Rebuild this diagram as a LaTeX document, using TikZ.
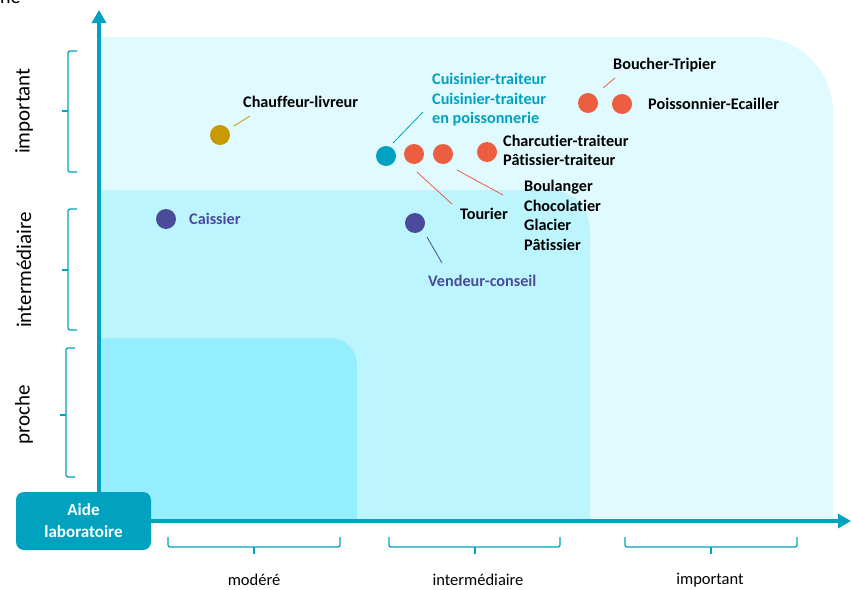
\documentclass[tikz,border=0pt]{standalone}
\usepackage{fontspec}
\setmainfont{Carlito}[Ligatures=NoCommon]
\usetikzlibrary{arrows.meta}
\definecolor{teal1}{HTML}{00A2BF}
\definecolor{zone1}{HTML}{E1FAFF}
\definecolor{zone2}{HTML}{BDF5FE}
\definecolor{zone3}{HTML}{94EEFF}
\definecolor{orangeD}{HTML}{EB5F40}
\definecolor{purpleD}{HTML}{4B4B9B}
\definecolor{goldD}{HTML}{C69A00}
\tikzset{
  x=1pt, y=1pt,
  dot/.style={circle, inner sep=0pt, minimum size=20pt},
  lbl/.style={anchor=west, inner sep=0pt, align=left, font=\fontsize{16.2}{19.5}\selectfont\bfseries},
  axislbl/.style={font=\fontsize{21}{24}\selectfont, inner sep=0pt},
  botlbl/.style={font=\fontsize{16.5}{18}\selectfont, inner sep=0pt},
  brace/.style={draw=teal1, line width=1.3pt, rounded corners=2pt},
  axis/.style={draw=teal1, line width=3.5pt, -{Triangle[length=13pt,width=14pt]}},
  leader/.style={line width=0.8pt}
}
\begin{document}
\begin{tikzpicture}
\useasboundingbox (0,0) rectangle (851,-589);
% partial heading
\node[anchor=base west, inner sep=0pt, font=\fontsize{20}{22}\selectfont] (head) at (0,-4) {ne};
% zones
\fill[zone1] (100,-521) -- (100,-37) -- (758,-37) arc[start angle=90,end angle=0,radius=75] -- (833,-521) -- cycle;
\fill[zone2] (100,-521) -- (100,-190) -- (550,-190) arc[start angle=90,end angle=0,radius=40] -- (590,-521) -- cycle;
\fill[zone3] (100,-521) -- (100,-338) -- (330,-338) arc[start angle=90,end angle=0,radius=27] -- (357,-365) -- (357,-521) -- cycle;
% axes
\coordinate (o) at (99,-521);
\coordinate (ytop) at (99,-10);
\coordinate (xend) at (851,-521);
\draw[axis] (99,-522) -- (ytop);
\draw[axis] (97,-521) -- (xend);
% left braces
\draw[brace] (77,-51) -- (68,-51) -- (68,-172) -- (77,-172);
\draw[brace] (68,-111) -- (62,-111);
\draw[brace] (77,-209) -- (68,-209) -- (68,-330) -- (77,-330);
\draw[brace] (68,-270) -- (62,-270);
\draw[brace] (75,-348) -- (66,-348) -- (66,-477) -- (75,-477);
\draw[brace] (66,-415) -- (60,-415);
\node[axislbl, rotate=90] (yl1) at (24,-111) {important};
\node[axislbl, rotate=90] (yl2) at (24,-270) {intermédiaire};
\node[axislbl, rotate=90] (yl3) at (24,-415) {proche};
% bottom braces
\draw[brace] (168,-537) -- (168,-547) -- (340,-547) -- (340,-537);
\draw[brace] (254,-547) -- (254,-554);
\draw[brace] (389,-537) -- (389,-547) -- (560,-547) -- (560,-537);
\draw[brace] (475,-547) -- (475,-554);
\draw[brace] (625,-537) -- (625,-547) -- (797,-547) -- (797,-537);
\draw[brace] (711,-547) -- (711,-554);
\node[botlbl] (xl1) at (254,-580) {modéré};
\node[botlbl] (xl2) at (478,-580) {intermédiaire};
\node[botlbl] (xl3) at (710,-580) {important};
% Aide laboratoire
\node[fill=teal1, rounded corners=8pt, minimum width=135pt, minimum height=58pt, align=center,
      text=white, font=\fontsize{17}{22}\selectfont\bfseries] (aide) at (83.5,-521) {Aide\\laboratoire};
% dots
\node[dot, fill=goldD] (chauf) at (220,-135) {};
\node[dot, fill=purpleD] (caiss) at (166,-219) {};
\node[dot, fill=teal1] (cuis) at (386,-156) {};
\node[dot, fill=orangeD] (tour) at (414,-154) {};
\node[dot, fill=orangeD] (boul) at (443,-154) {};
\node[dot, fill=orangeD] (charc) at (487,-152) {};
\node[dot, fill=purpleD] (vend) at (415,-223) {};
\node[dot, fill=orangeD] (bouch) at (588,-103) {};
\node[dot, fill=orangeD] (poiss) at (622,-104) {};
% labels
\node[lbl] (lchauf) at (243,-102) {Chauffeur-livreur};
\node[lbl, text=purpleD] (lcaiss) at (189,-219) {Caissier};
\node[lbl, text=teal1] (lcuis) at (432,-100) {Cuisinier-traiteur\\Cuisinier-traiteur\\en poissonnerie};
\node[lbl] (lcharc) at (503,-150.5) {Charcutier-traiteur\\Pâtissier-traiteur};
\node[lbl] (ltour) at (460,-214) {Tourier};
\node[lbl] (lboul) at (524,-215.5) {Boulanger\\Chocolatier\\Glacier\\Pâtissier};
\node[lbl, text=purpleD] (lvend) at (428,-281) {Vendeur-conseil};
\node[lbl] (lbouch) at (613,-65) {Boucher-Tripier};
\node[lbl] (lpoiss) at (648,-104) {Poissonnier-Ecailler};
% leader lines
\coordinate (c1a) at (234,-126); \coordinate (c1b) at (250,-116);
\draw[leader, goldD] (c1a) -- (c1b);
\coordinate (c2a) at (393,-143); \coordinate (c2b) at (423,-112);
\draw[leader, teal1] (c2a) -- (c2b);
\coordinate (c3a) at (417,-172); \coordinate (c3b) at (452,-204);
\draw[leader, orangeD] (c3a) -- (c3b);
\coordinate (c4a) at (457,-170); \coordinate (c4b) at (503,-195);
\draw[leader, orangeD] (c4a) -- (c4b);
\coordinate (c5a) at (427,-237); \coordinate (c5b) at (442,-263);
\draw[leader, purpleD] (c5a) -- (c5b);
\coordinate (c6a) at (603,-88); \coordinate (c6b) at (615,-78);
\draw[leader, orangeD] (c6a) -- (c6b);
\end{tikzpicture}
\end{document}
